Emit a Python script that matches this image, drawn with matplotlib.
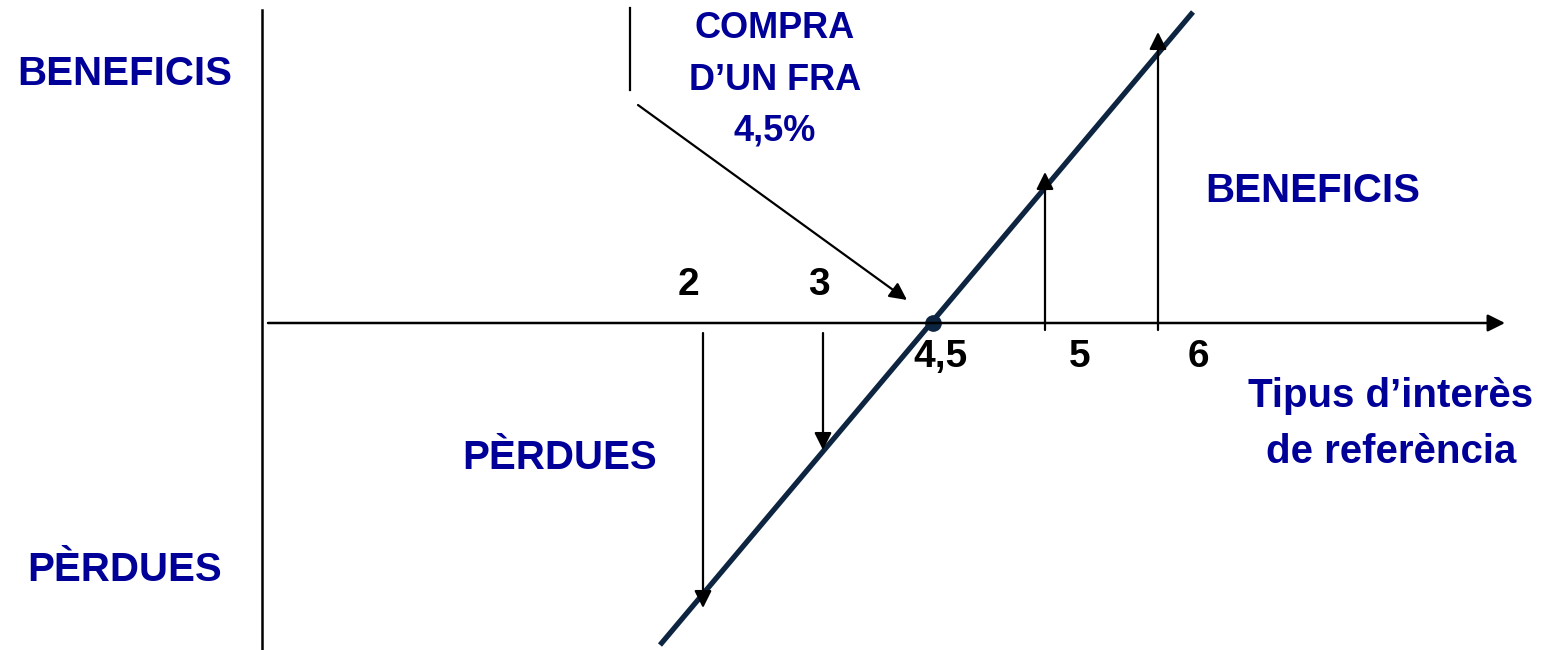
import matplotlib
matplotlib.use("Agg")
import matplotlib.pyplot as plt

# ---- data (schematic positions, y = 0 on the rate axis) ----
rate_labels = ['2', '3', '4,5', '5', '6']
rate_pos = [703, 823, 933, 1045, 1158]
payoff_end = [-285, -127, 0, 151, 291]      # arrow tips on the payoff line
payoff_line_x = [660, 1193]
payoff_line_y = [-322, 311]
strike_x, strike_y = 933, 0

BLUE = '#000099'
NAVY = '#0d2540'
plt.rcParams['font.family'] = ['Liberation Sans', 'DejaVu Sans']

fig = plt.figure(figsize=(15.5, 6.5), dpi=100)
ax = fig.add_axes([0, 0, 1, 1])
ax.set_xlim(0, 1550)
ax.set_ylim(-327, 323)
ax.axis('off')

# axes of the diagram
ax.plot([262, 262], [313, -330], color='black', lw=1.8)
ax.annotate('', xy=(1505, 0), xytext=(268, 0),
            arrowprops=dict(arrowstyle='-|>', color='black', lw=1.8,
                            mutation_scale=26, shrinkA=0, shrinkB=0))

# payoff line and strike dot
ax.plot(payoff_line_x, payoff_line_y, color=NAVY, lw=3.8, solid_capstyle='butt')
ax.plot([strike_x], [strike_y], 'o', color=NAVY, markersize=11)

# payoff arrows for each rate (except the strike)
for lab, x, y in zip(rate_labels, rate_pos, payoff_end):
    if y == 0:
        continue
    start = -10 if y < 0 else -7
    ax.annotate('', xy=(x, y), xytext=(x, start),
                arrowprops=dict(arrowstyle='-|>', color='black', lw=1.6,
                                mutation_scale=26, shrinkA=0, shrinkB=0))

# rate labels
for lab, x, y in zip(rate_labels, rate_pos, payoff_end):
    if y < 0:
        ax.text(x - 15 if lab == '2' else x - 4, 20, lab, ha='center',
                va='bottom', fontsize=28, fontweight='bold')
    else:
        dx = 8 if lab == '4,5' else (35 if lab == '5' else 40)
        ax.text(x + dx, -16, lab, ha='center', va='top',
                fontsize=28, fontweight='bold')

# FRA callout
ax.plot([630, 630], [315, 233], color='black', lw=1.6)
ax.annotate('', xy=(907, 23), xytext=(638, 218),
            arrowprops=dict(arrowstyle='-|>', color='black', lw=1.6,
                            mutation_scale=26, shrinkA=0, shrinkB=0))
ax.text(775, 243, 'COMPRA\nD\u2019UN FRA\n4,5%', ha='center', va='center',
        fontsize=26, fontweight='bold', color=BLUE, linespacing=1.6)

# side labels
ax.text(125, 249, 'BENEFICIS', ha='center', va='center',
        fontsize=29, fontweight='bold', color=BLUE)
ax.text(125, -247, 'P\u00c8RDUES', ha='center', va='center',
        fontsize=29, fontweight='bold', color=BLUE)
ax.text(1313, 132, 'BENEFICIS', ha='center', va='center',
        fontsize=29, fontweight='bold', color=BLUE)
ax.text(560, -135, 'P\u00c8RDUES', ha='center', va='center',
        fontsize=29, fontweight='bold', color=BLUE)
ax.text(1391, -101, 'Tipus d\u2019inter\u00e8s\nde refer\u00e8ncia',
        ha='center', va='center', fontsize=29, fontweight='bold',
        color=BLUE, linespacing=1.6)

fig.savefig('out.png', dpi=100)
